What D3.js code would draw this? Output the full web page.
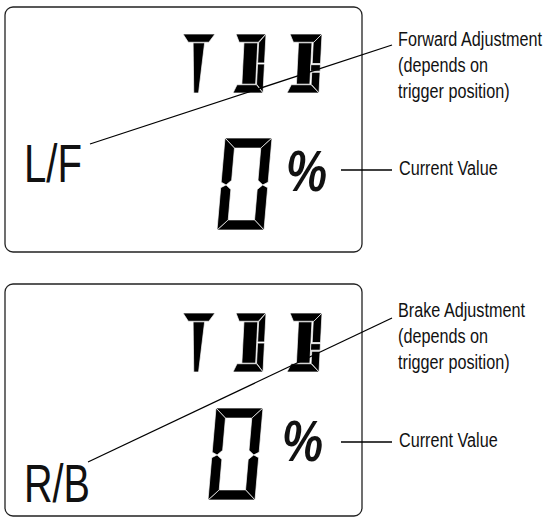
<!DOCTYPE html>
<html>
<head>
<meta charset="utf-8">
<title>LCD display – L/F and R/B adjustment</title>
<style>
body { margin: 0; background: #fff; }
text { font-family: "Liberation Sans", Arial, sans-serif; fill: #111; }
</style>
</head>
<body>
<svg width="552" height="526"></svg>
<script src="https://cdn.jsdelivr.net/npm/d3@7"></script>
<script>
// what is shown on each screen
var channels = ["L/F", "R/B"];
var adjustLabels = [
  ["Forward Adjustment", "(depends on", "trigger position)"],
  ["Brake Adjustment", "(depends on", "trigger position)"]
];
var valueLabel = "Current Value";
var modeGlyphs = ["T", "D", "B"];
var currentValue = ["0", "0"];
var unitSign = "%";

// segment outlines, in a 100 x 100 cell (x right, y down)
var segments = {
  // 14-segment style small characters
  T: [
    [[0,0],[100,0],[82,14],[18,14]],
    [[33,15],[69,15],[58,100],[43,100]]
  ],
  D: [
    [[0,0],[100,0],[76,14],[12,14]],
    [[28,15],[74,15],[74,85],[28,85]],
    [[77,15],[100,0],[100,49],[77,49]],
    [[77,51],[100,51],[100,100],[77,85]],
    [[0,100],[100,100],[77,86],[12,86]]
  ],
  B: [
    [[0,0],[100,0],[76,14],[12,14]],
    [[28,15],[70,15],[70,85],[28,85]],
    [[74,15],[100,0],[100,50],[74,50]],
    [[70,52],[100,52],[100,63],[70,63]],
    [[74,65],[100,65],[100,100],[74,85]],
    [[0,100],[100,100],[74,86],[12,86]]
  ],
  // 7-segment big digit
  "0": [
    [[0,0],[100,0],[78,11],[22,11]],
    [[100,0],[100,48],[89,51],[78,46],[78,11]],
    [[78,56],[89,51],[100,54],[100,100],[78,89]],
    [[0,100],[100,100],[78,89],[22,89]],
    [[0,54],[11,51],[22,56],[22,89],[0,100]],
    [[0,0],[22,11],[22,46],[11,51],[0,48]]
  ]
};

// layout of the two screens
var layout = [
  {box:[5,7,357,245], modeY:34, zero:[217,138], pct:[286,191], label:[24,182], labelLen:58,
   lead:[[90,144],[392,45]], textY:46, curY:170},
  {box:[5,284,357,232], modeY:313, zero:[208,408], pct:[282,461], label:[24,502], labelLen:66,
   lead:[[88,462],[392,318]], textY:317, curY:442}
];
var modeX = [{x:180, w:32}, {x:233, w:30}, {x:287, w:32}];
var narrow = 0.81;   // condensed type look

var svg = d3.select("svg");
var line = d3.line();

function drawGlyph(g, ch, x0, y0, w, h, slant) {
  var sx = d3.scaleLinear().domain([0,100]).range([x0, x0 + w]);
  var sy = d3.scaleLinear().domain([0,100]).range([y0, y0 + h]);
  var skew = d3.scaleLinear().domain([0,100]).range([slant, 0]);
  g.selectAll(null)
    .data(segments[ch])
    .enter().append("path")
      .attr("d", function(seg) {
        return line(seg.map(function(p) { return [sx(p[0]) + skew(p[1]), sy(p[1])]; })) + "Z";
      })
      .attr("fill", "#000")
      .attr("stroke", "#fff")
      .attr("stroke-width", 0.7)
      .attr("stroke-linejoin", "round");
}

function narrowText(g, x, y, size, txt) {
  return g.append("text")
    .attr("transform", "translate(" + x + "," + y + ") scale(" + narrow + ",1)")
    .attr("font-size", size)
    .text(txt);
}

channels.forEach(function(name, i) {
  var L = layout[i];
  var g = svg.append("g");

  g.append("rect")
    .attr("x", L.box[0]).attr("y", L.box[1])
    .attr("width", L.box[2]).attr("height", L.box[3])
    .attr("rx", 8)
    .attr("fill", "none")
    .attr("stroke", "#222")
    .attr("stroke-width", 1.3);

  modeGlyphs.forEach(function(ch, j) {
    drawGlyph(g, ch, modeX[j].x, L.modeY, modeX[j].w, 59, 3);
  });

  drawGlyph(g, currentValue[i], L.zero[0], L.zero[1], 47, 92, 8);

  narrowText(g, L.pct[0], L.pct[1], 57, unitSign)
    .attr("font-weight", "bold")
    .attr("font-style", "italic");

  g.append("text")
    .attr("x", L.label[0]).attr("y", L.label[1])
    .attr("font-size", 54)
    .attr("textLength", L.labelLen)
    .attr("lengthAdjust", "spacingAndGlyphs")
    .text(name);

  // leader to adjustment note
  g.append("line")
    .attr("x1", L.lead[0][0]).attr("y1", L.lead[0][1])
    .attr("x2", L.lead[1][0]).attr("y2", L.lead[1][1])
    .attr("stroke", "#000").attr("stroke-width", 1.3);

  adjustLabels[i].forEach(function(d, k) {
    narrowText(g, 398, L.textY + k * 26, 20, d);
  });

  // leader to current value
  g.append("line")
    .attr("x1", 341).attr("y1", L.curY)
    .attr("x2", 392).attr("y2", L.curY)
    .attr("stroke", "#000").attr("stroke-width", 1.3);

  narrowText(g, 399, L.curY + 5, 20, valueLabel);
});
</script>
</body>
</html>
